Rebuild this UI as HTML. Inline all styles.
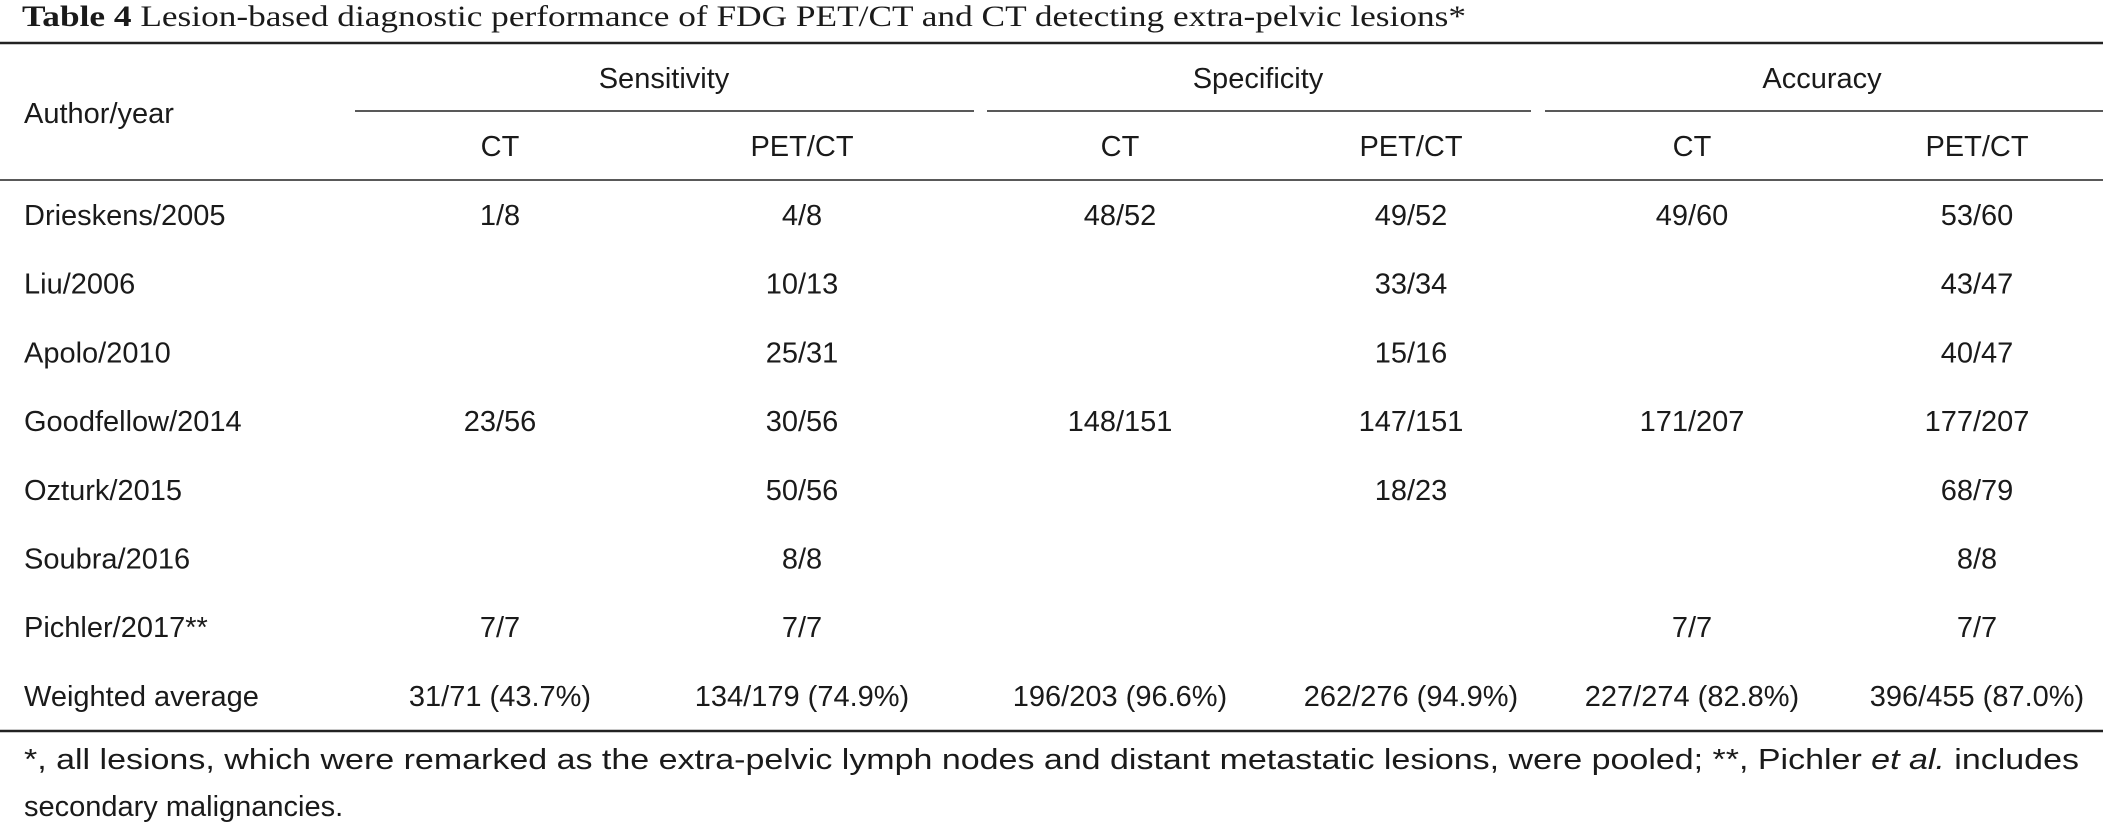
<!DOCTYPE html>
<html><head><meta charset="utf-8"><style>
html,body{margin:0;padding:0;background:#fff;}
svg{display:block;}
text{font-family:"Liberation Sans",Arial,sans-serif;font-size:29px;fill:#1a1a1a;}
.t{font-family:"Liberation Serif",serif;font-size:30px;}
.c{text-anchor:middle;}
</style></head><body>
<svg width="2103" height="825" viewBox="0 0 2103 825">
<text class="t" x="22" y="26" textLength="1444" lengthAdjust="spacingAndGlyphs"><tspan font-weight="bold">Table 4</tspan> Lesion-based diagnostic performance of FDG PET/CT and CT detecting extra-pelvic lesions*</text>
<line x1="0" y1="43" x2="2103" y2="43" stroke="#222" stroke-width="2.5"/>
<text x="24" y="123">Author/year</text>
<text class="c" x="664" y="88">Sensitivity</text>
<text class="c" x="1258" y="88">Specificity</text>
<text class="c" x="1822" y="88">Accuracy</text>
<line x1="355" y1="111" x2="974" y2="111" stroke="#222" stroke-width="1.6"/>
<line x1="987" y1="111" x2="1531" y2="111" stroke="#222" stroke-width="1.6"/>
<line x1="1545" y1="111" x2="2103" y2="111" stroke="#222" stroke-width="1.6"/>
<g id="subheads"></g>
<line x1="0" y1="180" x2="2103" y2="180" stroke="#222" stroke-width="1.6"/>
<g id="rows"></g>
<line x1="0" y1="731" x2="2103" y2="731" stroke="#222" stroke-width="2.5"/>
<text x="24" y="769" textLength="2055" lengthAdjust="spacingAndGlyphs">*, all lesions, which were remarked as the extra-pelvic lymph nodes and distant metastatic lesions, were pooled; **, Pichler <tspan font-style="italic">et al.</tspan> includes</text>
<text x="24" y="816">secondary malignancies.</text>
</svg>
<script>
const authors=["Drieskens/2005","Liu/2006","Apolo/2010","Goodfellow/2014","Ozturk/2015","Soubra/2016","Pichler/2017**","Weighted average"];
const sensCT=["1/8","","","23/56","","","7/7","31/71 (43.7%)"];
const sensPET=["4/8","10/13","25/31","30/56","50/56","8/8","7/7","134/179 (74.9%)"];
const specCT=["48/52","","","148/151","","","","196/203 (96.6%)"];
const specPET=["49/52","33/34","15/16","147/151","18/23","","","262/276 (94.9%)"];
const accCT=["49/60","","","171/207","","","7/7","227/274 (82.8%)"];
const accPET=["53/60","43/47","40/47","177/207","68/79","8/8","7/7","396/455 (87.0%)"];
const subLabels=["CT","PET/CT","CT","PET/CT","CT","PET/CT"];
const NS="http://www.w3.org/2000/svg";
const colX=[500,802,1120,1411,1692,1977];
const rowY=r=>225+r*68.7;
function txt(parent,x,y,s,center){
  const t=document.createElementNS(NS,"text");
  t.setAttribute("x",x);t.setAttribute("y",y);
  if(center)t.setAttribute("class","c");
  t.textContent=s;parent.appendChild(t);return t;
}
const sh=document.getElementById("subheads");
subLabels.forEach((s,i)=>{
  const t=txt(sh,colX[i],156,s,true);
  
  
});
const rows=document.getElementById("rows");
const cols=[sensCT,sensPET,specCT,specPET,accCT,accPET];
authors.forEach((a,r)=>{
  const t=txt(rows,24,rowY(r),a,false);
  
  
  cols.forEach((c,i)=>{
    if(!c[r])return;
    const v=txt(rows,colX[i],rowY(r),c[r],true);
    
    
  });
});
</script>
</body></html>
